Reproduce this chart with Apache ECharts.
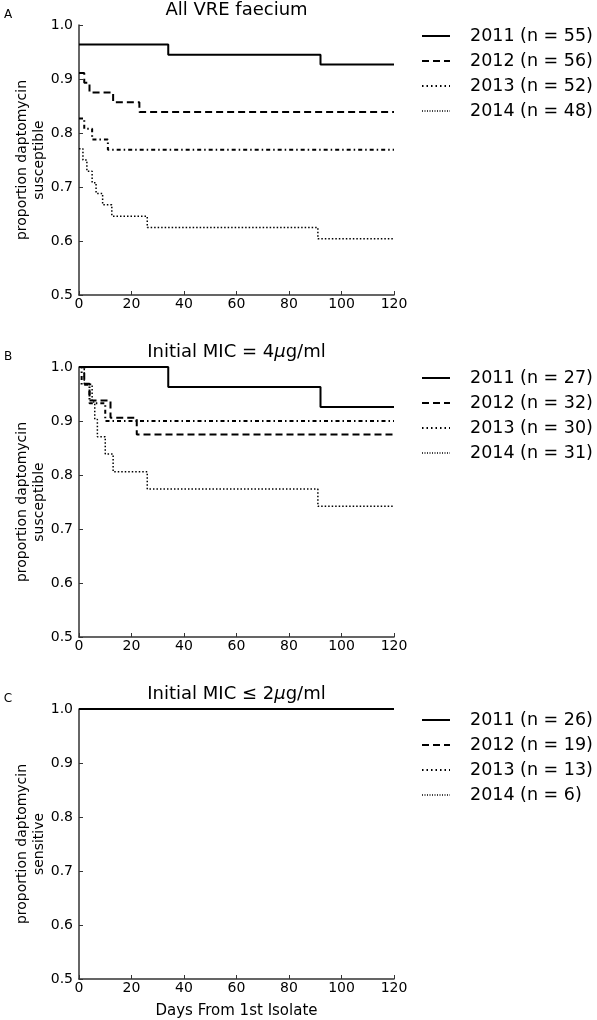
<!DOCTYPE html>
<html>
<head>
<meta charset="utf-8">
<script src="https://cdn.jsdelivr.net/npm/echarts@6/dist/echarts.min.js"></script>
<style>
html,body{margin:0;padding:0;background:#fff;}
#chart{width:597px;height:1020px;}
</style>
</head>
<body>
<div id="chart"></div>
<script>
// ---- data: [day, proportion] step points ----
const panelTitles = ['All VRE faecium', 'Initial MIC = 4{i|μ}g/ml', 'Initial MIC ≤ 2{i|μ}g/ml'];
const panelLetters = ['A', 'B', 'C'];
const yAxisNames = ['proportion daptomycin\nsusceptible', 'proportion daptomycin\nsusceptible', 'proportion daptomycin\nsensitive'];
const years = ['2011', '2012', '2013', '2014'];
const nA = [55, 56, 52, 48];
const nB = [27, 32, 30, 31];
const nC = [26, 19, 13, 6];

const A2011 = [[0, 0.964], [34, 0.945], [92, 0.927], [120, 0.927]];
const A2012 = [[0, 0.911], [2, 0.893], [4, 0.875], [13, 0.857], [23, 0.839], [120, 0.839]];
const A2013 = [[0, 0.827], [2, 0.808], [5, 0.788], [11, 0.769], [120, 0.769]];
const A2014 = [[0, 0.771], [1.5, 0.750], [3, 0.729], [5, 0.708], [6.5, 0.688], [9, 0.667], [12.5, 0.646], [26, 0.625], [91, 0.604], [120, 0.604]];

const B2011 = [[0, 1.0], [34, 0.963], [92, 0.926], [120, 0.926]];
const B2012 = [[0, 1.0], [2, 0.969], [4, 0.938], [12, 0.906], [22, 0.875], [120, 0.875]];
const B2013 = [[0, 1.0], [1, 0.967], [4, 0.933], [10, 0.900], [120, 0.900]];
const B2014 = [[0, 1.0], [2, 0.968], [5, 0.935], [6, 0.903], [7, 0.871], [10, 0.839], [13, 0.806], [26, 0.774], [91, 0.742], [120, 0.742]];

const C2011 = [[0, 1.0], [120, 1.0]];
const C2012 = [[0, 1.0], [120, 1.0]];
const C2013 = [[0, 1.0], [120, 1.0]];
const C2014 = [[0, 1.0], [120, 1.0]];

const xTicks = [0, 20, 40, 60, 80, 100, 120];

// ---- layout / style ----
const FONT = 'DejaVu Sans';
const gridTops = [25, 367, 709];
const gridH = 270, gridL = 79, gridW = 315;
const styles = [
  {type: 'solid', width: 2, dash: null},
  {type: [7, 4], width: 2, dash: [7, 4]},
  {type: [4, 3, 1.5, 3], width: 2, dash: [1.5, 3]},
  {type: [1.5, 2], width: 1.5, dash: [1, 1.5]}
];
const panelData = [[A2011, A2012, A2013, A2014], [B2011, B2012, B2013, B2014], [C2011, C2012, C2013, C2014]];
const panelN = [nA, nB, nC];

const grids = [], xAxes = [], yAxes = [], series = [], graphics = [];
for (let p = 0; p < 3; p++) {
  grids.push({left: gridL, top: gridTops[p], width: gridW, height: gridH, containLabel: false, outerBoundsMode: 'none'});
  xAxes.push({
    type: 'value', gridIndex: p, min: xTicks[0], max: xTicks[xTicks.length - 1], interval: 20,
    axisLine: {show: true, lineStyle: {color: '#333', width: 1.5}},
    axisTick: {show: true, inside: true, length: 4, lineStyle: {color: '#333'}},
    axisLabel: {color: '#000', fontSize: 14, fontFamily: FONT, margin: 2},
    splitLine: {show: false},
    name: p === 2 ? 'Days From 1st Isolate' : '',
    nameLocation: 'middle', nameGap: 25, nameMoveOverlap: false,
    nameTextStyle: {color: '#000', fontSize: 15, fontFamily: FONT}
  });
  yAxes.push({
    type: 'value', gridIndex: p, min: 0.5, max: 1.0, interval: 0.1,
    axisLine: {show: true, lineStyle: {color: '#333', width: 1.5}},
    axisTick: {show: true, inside: true, length: 4, lineStyle: {color: '#333'}},
    axisLabel: {color: '#000', fontSize: 14, fontFamily: FONT, margin: 6, formatter: v => v.toFixed(1)},
    splitLine: {show: false},
    name: yAxisNames[p], nameLocation: 'middle', nameGap: 31, nameMoveOverlap: false,
    nameTextStyle: {color: '#000', fontSize: 14, fontFamily: FONT, lineHeight: 17, align: 'center'}
  });
  for (let s = 0; s < 4; s++) {
    const nm = years[s] + ' (n = ' + panelN[p][s] + ')';
    series.push({
      name: nm, type: 'line', xAxisIndex: p, yAxisIndex: p, step: 'end',
      data: panelData[p][s], symbol: 'none', showSymbol: false,
      lineStyle: {color: '#000', width: styles[s].width, type: styles[s].type},
      itemStyle: {color: '#000'}, animation: false, z: 10 - s
    });
    // legend entry
    const ly = gridTops[p] + 11 + s * 25;
    graphics.push({
      type: 'line', shape: {x1: 422, y1: ly, x2: 450, y2: ly},
      style: {stroke: '#000', lineWidth: styles[s].width, lineDash: styles[s].dash}
    });
    graphics.push({
      type: 'text', x: 470, y: ly,
      style: {text: nm, fill: '#000', font: '17.5px "' + FONT + '"', verticalAlign: 'middle', align: 'left'}
    });
  }
  graphics.push({
    type: 'text', x: gridL + gridW / 2, y: gridTops[p] - 15,
    style: {text: panelTitles[p], fill: '#000', font: '18px "' + FONT + '"', align: 'center', verticalAlign: 'middle',
      rich: {i: {fontStyle: 'italic', fontSize: 18, fontFamily: FONT, fill: '#000'}}}
  });
  graphics.push({
    type: 'text', x: 8, y: gridTops[p] - 10,
    style: {text: panelLetters[p], fill: '#000', font: '12px "' + FONT + '"', align: 'center', verticalAlign: 'middle'}
  });
}

const chart = echarts.init(document.getElementById('chart'), null, {renderer: 'canvas'});
chart.setOption({
  animation: false,
  backgroundColor: '#fff',
  grid: grids,
  xAxis: xAxes,
  yAxis: yAxes,
  series: series,
  graphic: graphics
});
</script>
</body>
</html>
